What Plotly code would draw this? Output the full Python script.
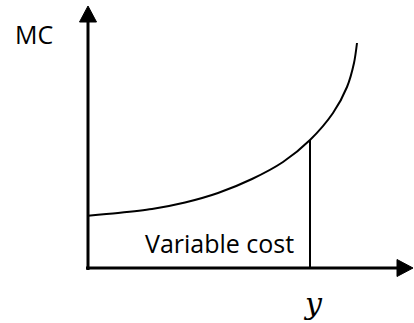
import plotly.graph_objects as go

# Marginal cost curve (quantity, MC)
quantity = [0, 30, 64, 97, 130, 164, 195, 222, 245, 259, 266, 269]
mc = [52.3, 55, 59, 65.5, 75, 89, 106, 128, 155, 181, 205, 225]

# chosen output level and its MC
y_star = 222
mc_star = 128

# axis extents
x_max = 325
y_max = 262
labels = {"mc": "MC", "area": "Variable cost", "q": "<i>y</i>"}

fig = go.Figure()

# axes (lines + arrowheads)
ah_len, ah_half = 16, 8.5
fig.add_trace(go.Scatter(x=[-2, x_max - ah_len], y=[0, 0], mode="lines",
                         line=dict(color="black", width=3), hoverinfo="skip"))
fig.add_trace(go.Scatter(x=[0, 0], y=[-2, y_max - ah_len], mode="lines",
                         line=dict(color="black", width=3), hoverinfo="skip"))
fig.add_trace(go.Scatter(x=[x_max - ah_len, x_max, x_max - ah_len, x_max - ah_len],
                         y=[ah_half, 0, -ah_half, ah_half], mode="lines", fill="toself",
                         fillcolor="black", line=dict(color="black", width=1), hoverinfo="skip"))
fig.add_trace(go.Scatter(x=[-ah_half, 0, ah_half, -ah_half],
                         y=[y_max - ah_len, y_max, y_max - ah_len, y_max - ah_len], mode="lines",
                         fill="toself", fillcolor="black", line=dict(color="black", width=1),
                         hoverinfo="skip"))

# MC curve
fig.add_trace(go.Scatter(x=quantity, y=mc, mode="lines", line_shape="spline",
                         line=dict(color="black", width=2, smoothing=0.8), hoverinfo="skip"))
# vertical line at y*
fig.add_trace(go.Scatter(x=[y_star, y_star], y=[0, mc_star], mode="lines",
                         line=dict(color="black", width=2), hoverinfo="skip"))

fig.add_annotation(x=-54, y=234, text=labels["mc"], showarrow=False,
                   font=dict(family="Open Sans", size=25, color="black"))
fig.add_annotation(x=131, y=25, text=labels["area"], showarrow=False,
                   font=dict(family="Open Sans", size=25, color="black"))
fig.add_annotation(x=y_star + 3, y=-35, text=labels["q"], showarrow=False,
                   font=dict(family="DejaVu Serif", size=30, color="black"))

fig.update_layout(
    width=414, height=323, margin=dict(l=0, r=0, t=0, b=0),
    paper_bgcolor="white", plot_bgcolor="white", showlegend=False,
    xaxis=dict(range=[-88, 326], visible=False, fixedrange=True),
    yaxis=dict(range=[-55, 268], visible=False, fixedrange=True),
)
fig.write_html("out.html", config={"displayModeBar": False},
               post_script="document.body.style.margin='0';")
